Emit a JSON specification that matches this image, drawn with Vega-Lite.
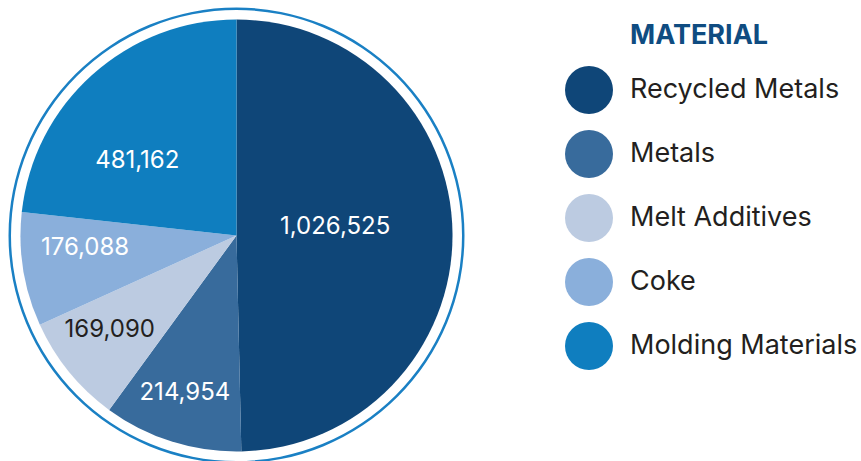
{
  "$schema": "https://vega.github.io/schema/vega-lite/v6.json",
  "width": 473,
  "height": 461,
  "padding": {"left": 0, "top": 5, "right": 0, "bottom": 0},
  "background": "white",
  "config": {"view": {"stroke": null}, "font": "Inter"},
  "data": {"values": [
    {"material": "Recycled Metals", "amount": 1026525, "idx": 1},
    {"material": "Metals", "amount": 214954, "idx": 2},
    {"material": "Melt Additives", "amount": 169090, "idx": 3},
    {"material": "Coke", "amount": 176088, "idx": 4},
    {"material": "Molding Materials", "amount": 481162, "idx": 5}
  ]},
  "layer": [
    {
      "data": {"values": [{"ring": 1}]},
      "mark": {"type": "arc", "radius": 228, "radius2": 225.5, "theta": 0, "theta2": 6.2832, "color": "#1a80c4"},
      "encoding": {}
    },
    {
      "mark": {"type": "arc", "radius": 216, "strokeWidth": 0},
      "encoding": {
        "theta": {"field": "amount", "type": "quantitative", "stack": true},
        "order": {"field": "idx", "type": "quantitative"},
        "color": {
          "field": "material", "type": "nominal",
          "scale": {
            "domain": ["Recycled Metals", "Metals", "Melt Additives", "Coke", "Molding Materials"],
            "range": ["#0f4678", "#386b9c", "#bccbe1", "#8aafdb", "#0f7ebf"]
          },
          "legend": {
            "title": "MATERIAL",
            "orient": "none",
            "legendX": 565,
            "legendY": 18,
            "padding": 0,
            "symbolType": "circle",
            "symbolSize": 2304,
            "symbolStrokeWidth": 0,
            "symbolOpacity": 1,
            "labelFontSize": 27,
            "labelColor": "#231f20",
            "labelOffset": 17,
            "labelLimit": 400,
            "rowPadding": 16,
            "titleFontSize": 27,
            "titleFontWeight": "bold",
            "titleColor": "#0f4c81",
            "titlePadding": 16,
            "encoding": {"title": {"dx": {"value": 65}}}
          }
        }
      }
    },
    {
      "mark": {"type": "text", "radius": 99, "thetaOffset": -0.075, "fontSize": 24, "color": "white"},
      "encoding": {
        "theta": {"field": "amount", "type": "quantitative", "stack": true},
        "order": {"field": "idx", "type": "quantitative"},
        "text": {"condition": {"test": "datum.material === 'Recycled Metals'", "field": "amount", "type": "quantitative", "format": ","}, "value": ""}
      }
    },
    {
      "mark": {"type": "text", "radius": 166, "thetaOffset": 0.012, "fontSize": 24, "color": "white"},
      "encoding": {
        "theta": {"field": "amount", "type": "quantitative", "stack": true},
        "order": {"field": "idx", "type": "quantitative"},
        "text": {"condition": {"test": "datum.material === 'Metals'", "field": "amount", "type": "quantitative", "format": ","}, "value": ""}
      }
    },
    {
      "mark": {"type": "text", "radius": 158, "thetaOffset": 0.043, "fontSize": 24, "color": "#231f20"},
      "encoding": {
        "theta": {"field": "amount", "type": "quantitative", "stack": true},
        "order": {"field": "idx", "type": "quantitative"},
        "text": {"condition": {"test": "datum.material === 'Melt Additives'", "field": "amount", "type": "quantitative", "format": ","}, "value": ""}
      }
    },
    {
      "mark": {"type": "text", "radius": 152, "thetaOffset": 0.077, "fontSize": 24, "color": "white"},
      "encoding": {
        "theta": {"field": "amount", "type": "quantitative", "stack": true},
        "order": {"field": "idx", "type": "quantitative"},
        "text": {"condition": {"test": "datum.material === 'Coke'", "field": "amount", "type": "quantitative", "format": ","}, "value": ""}
      }
    },
    {
      "mark": {"type": "text", "radius": 124, "thetaOffset": -0.197, "fontSize": 24, "color": "white"},
      "encoding": {
        "theta": {"field": "amount", "type": "quantitative", "stack": true},
        "order": {"field": "idx", "type": "quantitative"},
        "text": {"condition": {"test": "datum.material === 'Molding Materials'", "field": "amount", "type": "quantitative", "format": ","}, "value": ""}
      }
    }
  ]
}
